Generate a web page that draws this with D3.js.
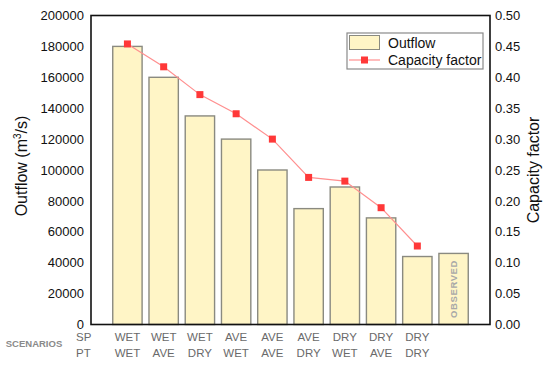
<!DOCTYPE html>
<html lang="en">
<head>
<meta charset="UTF-8">
<title>outflow</title>
<script src="https://cdn.jsdelivr.net/npm/d3@7"></script>
<style>
  body { margin: 0; background: #fff; }
  text { font-family: "Liberation Sans", Arial, sans-serif; }
</style>
</head>
<body>
<div id="root"></div>
<script>
// scenario labels (spill / power-tunnel)
var spLabels = ["WET", "WET", "WET", "AVE", "AVE", "AVE", "DRY", "DRY", "DRY", ""]
var ptLabels = ["WET", "AVE", "DRY", "WET", "AVE", "DRY", "WET", "AVE", "DRY", ""]
var categories = ["WET-WET", "WET-AVE", "WET-DRY", "AVE-WET", "AVE-AVE", "AVE-DRY", "DRY-WET", "DRY-AVE", "DRY-DRY", "OBSERVED"]

var outflow = [180000, 160000, 135000, 120000, 100000, 75000, 89000, 69000, 44000, 46000]
var capacity = [0.454, 0.417, 0.372, 0.341, 0.300, 0.238, 0.232, 0.189, 0.127]

var leftTicks = [0, 20000, 40000, 60000, 80000, 100000, 120000, 140000, 160000, 180000, 200000]
var rightTicks = [0, 0.05, 0.10, 0.15, 0.20, 0.25, 0.30, 0.35, 0.40, 0.45, 0.50]

var width = 550, height = 366
var margin = {top: 15.5, right: 60, bottom: 41.5, left: 91}
var w = width - margin.left - margin.right
var h = height - margin.top - margin.bottom

var svg = d3.select('#root').append('svg')
    .attr('width', width)
    .attr('height', height)

var g = svg.append('g')
    .attr('transform', 'translate(' + margin.left + ',' + margin.top + ')')

var x = d3.scaleBand()
    .domain(categories)
    .range([0, w])
    .paddingInner(0.19)
    .paddingOuter(0.6)

var y = d3.scaleLinear().domain([0, 200000]).range([h, 0])
var y2 = d3.scaleLinear().domain([0, 0.5]).range([h, 0])

// bars
g.selectAll('rect.bar')
    .data(outflow)
    .enter()
    .append('rect')
        .attr('class', 'bar')
        .attr('x', function(d, i) { return x(categories[i]) })
        .attr('y', function(d) { return y(d) })
        .attr('width', x.bandwidth())
        .attr('height', function(d) { return h - y(d) })
        .attr('fill', '#fff5c6')
        .attr('stroke', '#8a8a80')
        .attr('stroke-width', 1.4)

// observed label inside last bar
var obsX = x("OBSERVED") + x.bandwidth() / 2
g.append('text')
    .attr('transform', 'translate(' + (obsX + 3.5) + ',' + (y(outflow[9]) + (h - y(outflow[9])) / 2) + ') rotate(-90)')
    .attr('text-anchor', 'middle')
    .attr('font-size', 9.5)
    .attr('font-weight', 'bold')
    .attr('letter-spacing', 0.6)
    .attr('fill', '#a8a8a8')
    .text('OBSERVED')

// capacity factor line
var line = d3.line()
    .x(function(d, i) { return x(categories[i]) + x.bandwidth() / 2 })
    .y(function(d) { return y2(d) })

g.append('path')
    .datum(capacity)
    .attr('d', line)
    .attr('fill', 'none')
    .attr('stroke', '#ff8f8f')
    .attr('stroke-width', 1.2)

g.selectAll('rect.pt')
    .data(capacity)
    .enter()
    .append('rect')
        .attr('class', 'pt')
        .attr('x', function(d, i) { return x(categories[i]) + x.bandwidth() / 2 - 3.5 })
        .attr('y', function(d) { return y2(d) - 3.5 })
        .attr('width', 7)
        .attr('height', 7)
        .attr('fill', '#ff3838')

// axes
var leftAxis = d3.axisLeft(y).tickValues(leftTicks).tickSize(0).tickPadding(7)
    .tickFormat(d3.format('d'))
var rightAxis = d3.axisRight(y2).tickValues(rightTicks).tickSize(0).tickPadding(5)
    .tickFormat(d3.format('.2f'))

var la = g.append('g').call(leftAxis)
var ra = g.append('g').attr('transform', 'translate(' + w + ',0)').call(rightAxis)
la.select('.domain').remove()
ra.select('.domain').remove()
la.selectAll('text').attr('font-size', 13).attr('fill', '#111').style('font-family', '"Liberation Sans", Arial, sans-serif')
ra.selectAll('text').attr('font-size', 13).attr('fill', '#111').style('font-family', '"Liberation Sans", Arial, sans-serif')

// frame
g.append('rect')
    .attr('x', 0).attr('y', 0)
    .attr('width', w).attr('height', h)
    .attr('fill', 'none')
    .attr('stroke', '#111')
    .attr('stroke-width', 1.6)

// axis titles
var lt = svg.append('text')
    .attr('transform', 'translate(27,166) rotate(-90)')
    .attr('text-anchor', 'middle')
    .attr('font-size', 16)
    .attr('fill', '#111')
lt.append('tspan').text('Outflow (m')
lt.append('tspan').attr('font-size', 10).attr('dy', -6).text('3')
lt.append('tspan').attr('dy', 6).text('/s)')

svg.append('text')
    .attr('transform', 'translate(539,170) rotate(-90)')
    .attr('text-anchor', 'middle')
    .attr('font-size', 16)
    .attr('fill', '#111')
    .text('Capacity factor')

// scenario labels
var lab = svg.append('g')
    .attr('font-size', 11.5)
    .attr('fill', '#6a6a6a')
    .attr('text-anchor', 'middle')

lab.selectAll('text.sp')
    .data(spLabels)
    .enter()
    .append('text')
        .attr('x', function(d, i) { return margin.left + x(categories[i]) + x.bandwidth() / 2 })
        .attr('y', 341)
        .text(function(d) { return d })

lab.selectAll('text.ptl')
    .data(ptLabels)
    .enter()
    .append('text')
        .attr('x', function(d, i) { return margin.left + x(categories[i]) + x.bandwidth() / 2 })
        .attr('y', 357)
        .text(function(d) { return d })

svg.append('text').attr('x', 76).attr('y', 341).attr('font-size', 11.5).attr('fill', '#6a6a6a').text('SP')
svg.append('text').attr('x', 76).attr('y', 357).attr('font-size', 11.5).attr('fill', '#6a6a6a').text('PT')
svg.append('text').attr('x', 34).attr('y', 347).attr('font-size', 9.5).attr('font-weight', 'bold')
    .attr('text-anchor', 'middle').attr('fill', '#8a8a8a').text('SCENARIOS')

// legend
var leg = svg.append('g').attr('transform', 'translate(347,33)')
leg.append('rect')
    .attr('width', 136).attr('height', 36)
    .attr('fill', '#fff').attr('stroke', '#8a8a8a').attr('stroke-width', 1.2)
leg.append('rect')
    .attr('x', 2.5).attr('y', 2.5).attr('width', 30).attr('height', 14)
    .attr('fill', '#fff5c6').attr('stroke', '#8a8a80').attr('stroke-width', 1)
leg.append('text').attr('x', 41).attr('y', 14.5).attr('font-size', 14).attr('fill', '#111').text('Outflow')
leg.append('line')
    .attr('x1', 2).attr('x2', 33).attr('y1', 27).attr('y2', 27)
    .attr('stroke', '#ff8f8f').attr('stroke-width', 1.2)
leg.append('rect')
    .attr('x', 14).attr('y', 23.5).attr('width', 7).attr('height', 7).attr('fill', '#ff3838')
leg.append('text').attr('x', 41).attr('y', 32).attr('font-size', 14).attr('fill', '#111').text('Capacity factor')
</script>
</body>
</html>
